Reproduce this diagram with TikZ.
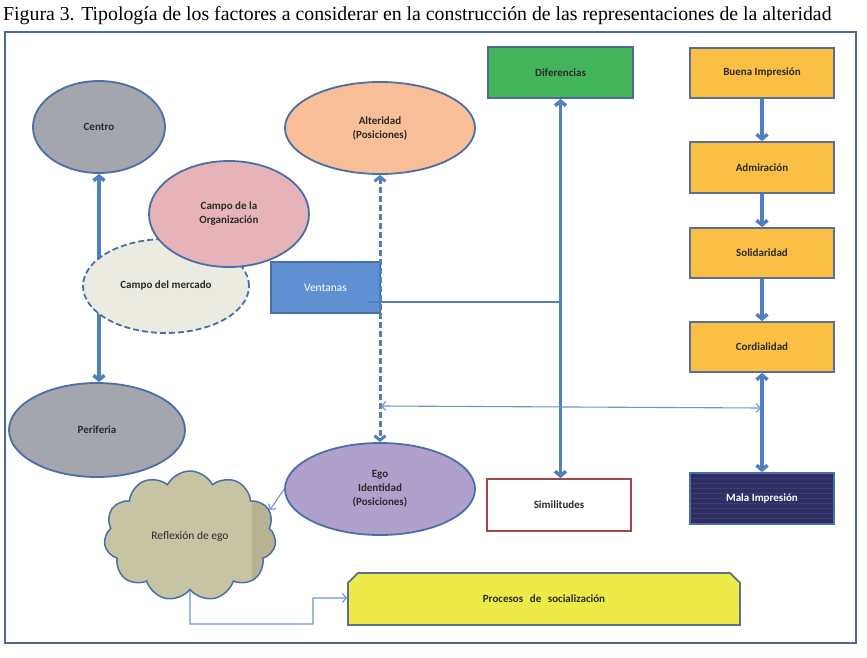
\documentclass[tikz,border=0pt]{standalone}
\usepackage{fontspec}
\setmainfont{Liberation Serif}
\newfontfamily\calfont{Carlito}
\usetikzlibrary{shapes.geometric,shapes.symbols,shapes.misc,arrows.meta}
\definecolor{framec}{HTML}{4B6A96}
\definecolor{arrowc}{HTML}{4F7FC0}
\definecolor{thinc}{HTML}{6F95C8}
\definecolor{ellb}{HTML}{4A6FA8}
\definecolor{grayf}{HTML}{A3A6AC}
\definecolor{peach}{HTML}{F8BF98}
\definecolor{pinkf}{HTML}{E6B4B8}
\definecolor{mercf}{HTML}{EBEBE1}
\definecolor{ventf}{HTML}{5F91D2}
\definecolor{lavf}{HTML}{AFA0CC}
\definecolor{khaki}{HTML}{C7C4A3}
\definecolor{khakid}{HTML}{B6B392}
\definecolor{yelf}{HTML}{EEEA48}
\definecolor{greenf}{HTML}{44B45C}
\definecolor{orangef}{HTML}{FBBF45}
\definecolor{boxb}{HTML}{5B6F8F}
\definecolor{navyf}{HTML}{2F2E62}
\definecolor{navyl}{HTML}{3C3B72}
\definecolor{redb}{HTML}{A04848}
\definecolor{txt}{HTML}{2A2A2A}
\tikzset{
  lbl/.style={font=\calfont\bfseries\fontsize{11}{14}\selectfont, text=txt, align=center},
  ell/.style={ellipse, draw=ellb, line width=1.8pt, inner sep=0pt, lbl},
  box/.style={rectangle, draw=boxb, line width=1.8pt, inner sep=0pt, lbl},
  thickarr/.style={draw=arrowc, line width=3.5pt, {Straight Barb[length=4.5pt,width=11pt]}-{Straight Barb[length=4.5pt,width=11pt]}},
  thickone/.style={draw=arrowc, line width=3.5pt, -{Straight Barb[length=4.5pt,width=11pt]}},
  thinarr/.style={draw=thinc, line width=1.1pt, -{Straight Barb[length=4pt,width=9pt]}},
}
\begin{document}
\begin{tikzpicture}[x=1pt,y=-1pt]
\useasboundingbox (0,0) rectangle (867,658);
\fill[white] (0,0) rectangle (867,658);

\node[font=\fontsize{19.8}{22}\selectfont, anchor=west, inner sep=0pt] (title) at (3,16) {Figura 3. Tipología de los factores a considerar en la construcción de las representaciones de la alteridad};

\draw[framec, line width=2.5pt] (5,32) rectangle (856,643);

% Centro-Periferia
\node[ell, fill=grayf, minimum width=132pt, minimum height=92pt] (centro) at (99,127) {Centro};
\node[ell, fill=grayf, minimum width=176pt, minimum height=94pt] (periferia) at (97,430) {Periferia};
\draw[thickarr] (centro.south) -- (centro.south |- periferia.north);

% Campo del mercado and Organizacion
\node[ell, fill=mercf, dashed, dash pattern=on 6pt off 3pt, minimum width=166pt, minimum height=94pt] (mercado) at (166,286) {Campo del mercado};
\node[ell, fill=pinkf, minimum width=160pt, minimum height=106pt] (org) at (229,214) {Campo de la\\Organización};

% Alteridad, Ego
\node[ell, fill=peach, minimum width=190pt, minimum height=92pt] (alt) at (380,128) {Alteridad\\(Posiciones)};
\node[ell, fill=lavf, minimum width=190pt, minimum height=92pt] (ego) at (380,489) {Ego\\Identidad\\(Posiciones)};

% Ventanas
\node[rectangle, draw=ellb, line width=1.8pt, fill=ventf, minimum width=109pt, minimum height=51pt, font=\calfont\fontsize{11.5}{14}\selectfont, text=white] (vent) at (325.5,287.5) {Ventanas};

\draw[draw=arrowc, line width=3pt, dash pattern=on 6pt off 3pt, {Straight Barb[length=4.5pt,width=11pt]}-{Straight Barb[length=4.5pt,width=11pt]}] (alt.south) -- (alt.south |- ego.north);

% Diferencias / Similitudes
\node[box, draw=framec, fill=greenf, minimum width=145pt, minimum height=51pt] (dif) at (560.5,72.5) {Diferencias};
\node[box, draw=redb, fill=white, minimum width=144pt, minimum height=52pt] (sim) at (559,505) {Similitudes};
\coordinate (vjoin) at (560.5,302);
\draw[draw=arrowc, line width=2pt] ([xshift=-13pt]vent.east |- vjoin) -- (vjoin);
\draw[thickarr] (dif.south) -- (dif.south |- sim.north);

% Right column
\node[box, fill=orangef, minimum width=144pt, minimum height=50pt] (buena) at (762,73) {Buena Impresión};
\node[box, fill=orangef, minimum width=144pt, minimum height=51pt] (adm) at (762,167.5) {Admiración};
\node[box, fill=orangef, minimum width=144pt, minimum height=50pt] (sol) at (762,253) {Solidaridad};
\node[box, fill=orangef, minimum width=144pt, minimum height=50pt] (cord) at (762,347) {Cordialidad};
\node[box, draw=ellb, fill=navyf, text=white, minimum width=144pt, minimum height=51pt,
  path picture={\foreach \k in {-20,-15,...,25} \draw[navyl, line width=0.4pt] ([yshift=\k pt]path picture bounding box.west) -- ([yshift=\k pt]path picture bounding box.east);}] (mala) at (762,498.5) {\color{white}Mala Impresión};
\draw[thickone] (buena.south) -- (adm.north);
\draw[thickone] (adm.south) -- (sol.north);
\draw[thickone] (sol.south) -- (cord.north);
\draw[thickarr] (cord.south) -- (mala.north);

% thin horizontal double arrow
\coordinate (hl) at (381,406);
\coordinate (hr) at (761,408);
\draw[draw=thinc, line width=1.1pt, {Straight Barb[length=4pt,width=9pt]}-{Straight Barb[length=4pt,width=9pt]}] (hl) -- (hr);

% Cloud
\node[cloud, cloud puffs=11, cloud puff arc=125, aspect=1.3, fill=khaki, draw=ellb, line width=1.5pt, minimum width=172pt, minimum height=130pt, font=\calfont\fontsize{11.5}{14}\selectfont, text=txt,
  path picture={\fill[khakid] ([xshift=-24pt]path picture bounding box.north east) rectangle (path picture bounding box.south east);}] (cloud) at (190,536) {Reflexión de ego};

% Procesos
\node[chamfered rectangle, chamfered rectangle corners={north west,north east}, chamfered rectangle xsep=6pt, chamfered rectangle ysep=6pt, draw=boxb, line width=1.8pt, fill=yelf, minimum width=392pt, minimum height=52pt, inner sep=0pt, lbl] (proc) at (544,599) {Procesos\hspace{0.6em}de\hspace{0.6em}socialización};

\draw[thinarr] (ego.west) -- (cloud.18);
\coordinate (c1) at (190,624);
\coordinate (c2) at (313,624);
\coordinate (c3) at (313,598);
\draw[thinarr] (cloud.south) -- (c1) -- (c2) -- (c3) -- (proc.west |- c3);
\end{tikzpicture}
\end{document}
